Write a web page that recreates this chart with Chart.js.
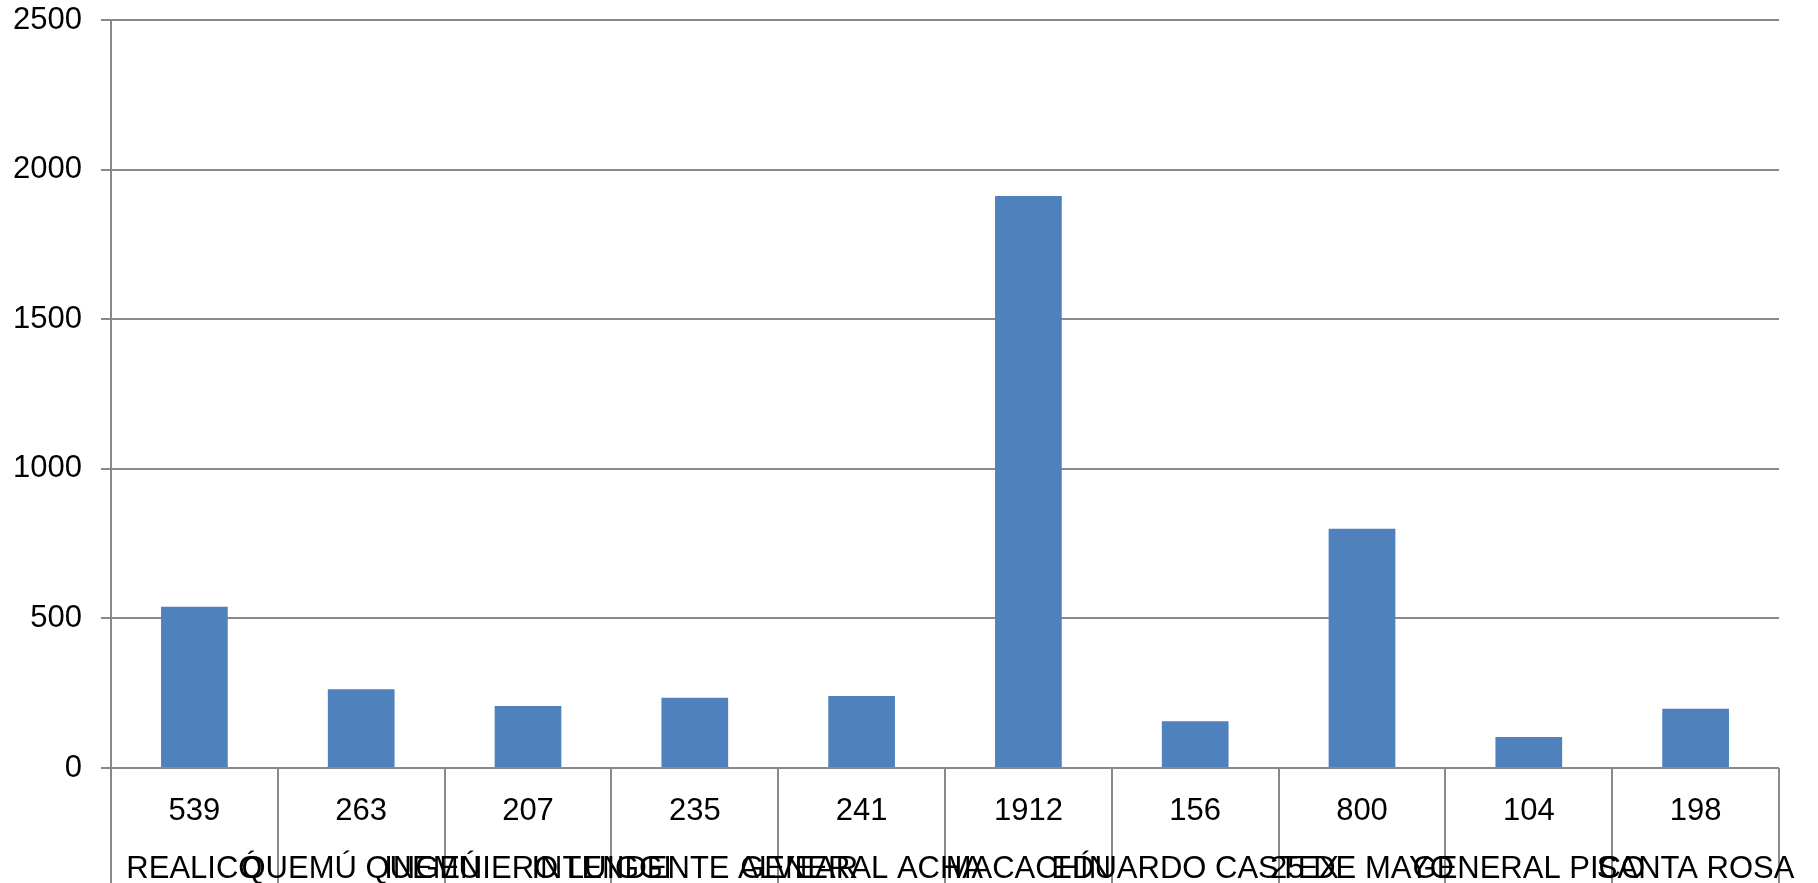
<!DOCTYPE html>
<html>
<head>
<meta charset="utf-8">
<script src="https://cdn.jsdelivr.net/npm/chart.js@4.4.1/dist/chart.umd.min.js"></script>
<style>
  html, body { margin: 0; padding: 0; background: #fff; }
  #wrap { width: 1818px; height: 883px; }
</style>
</head>
<body>
<div id="wrap"><canvas id="grafico"></canvas></div>
<script>
const localidades = ['REALICÓ', 'QUEMÚ QUEMÚ', 'INGENIERO LUIGGI', 'INTENDENTE ALVEAR', 'GENERAL ACHA',
  'MACACHÍN', 'EDUARDO CASTEX', '25 DE MAYO', 'GENERAL PICO', 'SANTA ROSA'];
const cantidades = [539, 263, 207, 235, 241, 1912, 156, 800, 104, 198];
const marcasY = [0, 500, 1000, 1500, 2000, 2500];

const gris = '#898989';
const fuente = { family: "'Liberation Sans', Arial, sans-serif", size: 31 };

const ctx = document.getElementById('grafico').getContext('2d');

const grafico = new Chart(ctx, {
  type: 'bar',
  data: {
    labels: localidades,
    datasets: [{
      label: 'Cantidad',
      data: cantidades,
      backgroundColor: '#4F81BD',
      borderWidth: 0,
      categoryPercentage: 1,
      barPercentage: 0.4
    }]
  },
  options: {
    responsive: true,
    maintainAspectRatio: false,
    animation: false,
    layout: { padding: { top: 20, right: 39, bottom: 0, left: 0 } },
    plugins: {
      legend: { display: false },
      tooltip: { enabled: false }
    },
    scales: {
      x: {
        offset: true,
        grid: {
          offset: true,
          drawOnChartArea: false, // solo las lineas de la tabla de datos
          color: gris,
          lineWidth: 2,
          tickLength: 115
        },
        border: { display: false },
        ticks: {
          autoSkip: false,
          maxRotation: 0,
          minRotation: 0,
          padding: -101,
          color: '#000',
          font: { ...fuente, lineHeight: 1.89 },
          // valor arriba, localidad abajo
          callback: (v, i) => [String(cantidades[i]), localidades[i]]
        },
        afterFit: (scale) => { scale.height = 115; }
      },
      y: {
        min: 0,
        max: 2500,
        afterBuildTicks: (scale) => { scale.ticks = marcasY.map(v => ({ value: v })); },
        grid: {
          color: gris,
          lineWidth: 2,
          tickLength: 10
        },
        border: { color: gris, width: 2 },
        ticks: {
          padding: 19,
          color: '#000',
          font: fuente,
          callback: (v) => String(v)
        },
        afterFit: (scale) => {
          scale.width = 111;
          scale.paddingTop = 0;
          scale.paddingBottom = 0;
        }
      }
    }
  }
});
</script>
</body>
</html>
